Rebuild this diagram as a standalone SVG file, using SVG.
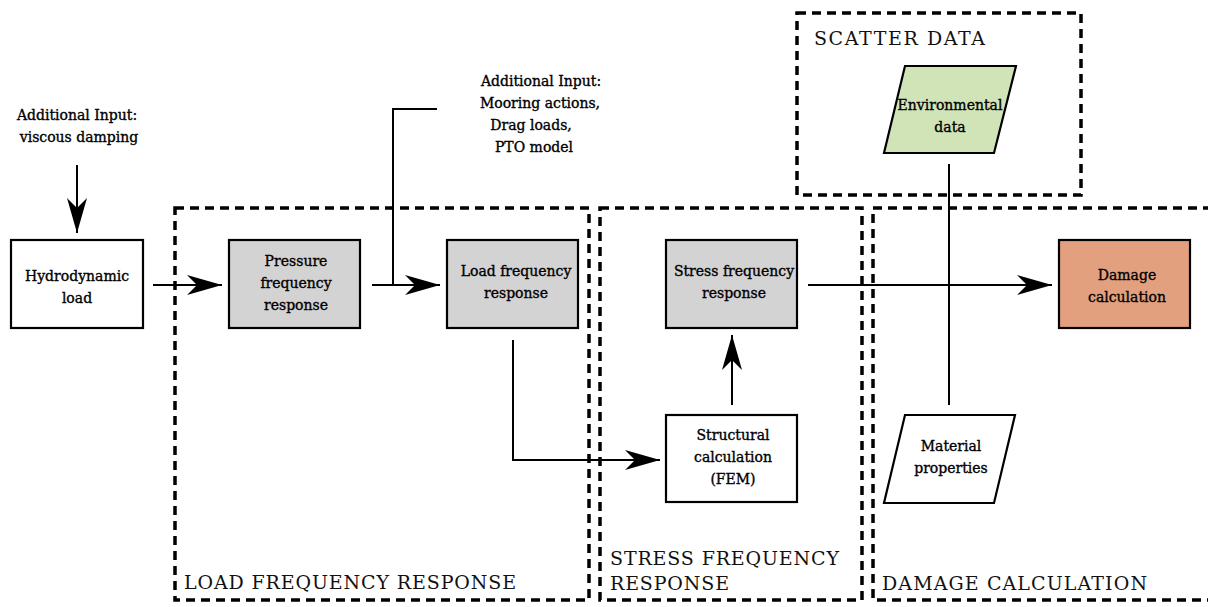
<svg xmlns="http://www.w3.org/2000/svg" width="1208" height="607" viewBox="0 0 1208 607">
<style>
.grp{fill:none;stroke:#000;stroke-width:3.5;stroke-dasharray:9 6}
.box{stroke:#000;stroke-width:2.2}
.t{font-family:'DejaVu Serif',serif;font-size:14px;text-anchor:middle;fill:#000;stroke:#000;stroke-width:0.35}
.g{font-family:'DejaVu Serif',serif;font-size:19px;fill:#111}
.c{fill:none;stroke:#000;stroke-width:2}
</style>
<defs>
<marker id="ah" markerUnits="userSpaceOnUse" markerWidth="36" markerHeight="22" viewBox="0 0 36 22" refX="35" refY="11" orient="auto">
<path d="M0,1 L35,11 L0,21 L10,11 Z" fill="#000"/>
</marker>
</defs>
<rect width="1208" height="607" fill="#fff"/>

<g id="group-load">
<rect class="grp" x="175" y="208" width="414" height="392"/>
<text class="g" x="184" y="589" textLength="332" lengthAdjust="spacing">LOAD FREQUENCY RESPONSE</text>
</g>
<g id="group-stress">
<rect class="grp" x="600" y="208" width="262" height="392"/>
<text class="g" x="610" y="565" textLength="229" lengthAdjust="spacing">STRESS FREQUENCY</text>
<text class="g" x="610" y="590" textLength="119" lengthAdjust="spacing">RESPONSE</text>
</g>
<g id="group-damage">
<path class="grp" d="M1212,208 H873 V600 H1212"/>
<text class="g" x="882" y="590" textLength="265" lengthAdjust="spacing">DAMAGE CALCULATION</text>
</g>
<g id="group-scatter">
<rect class="grp" x="797" y="13" width="284" height="182"/>
<text class="g" x="814" y="45" textLength="171" lengthAdjust="spacing">SCATTER DATA</text>
</g>

<g id="connectors">
<line class="c" x1="77" y1="165" x2="77" y2="233" marker-end="url(#ah)"/>
<line class="c" x1="153" y1="285" x2="222" y2="285" marker-end="url(#ah)"/>
<line class="c" x1="372" y1="285" x2="440" y2="285" marker-end="url(#ah)"/>
<polyline class="c" points="437,109 393,109 393,285"/>
<polyline class="c" points="513,340 513,460 660,460" marker-end="url(#ah)"/>
<line class="c" x1="732" y1="405" x2="732" y2="335" marker-end="url(#ah)"/>
<line class="c" x1="808" y1="285" x2="1052" y2="285" marker-end="url(#ah)"/>
<line class="c" x1="949" y1="164" x2="949" y2="405"/>
</g>

<g id="input-damping">
<text class="t" x="77" y="120">Additional Input:</text>
<text class="t" x="79" y="142">viscous damping</text>
</g>
<g id="input-mooring">
<text class="t" x="541" y="86">Additional Input:</text>
<text class="t" x="540" y="108">Mooring actions,</text>
<text class="t" x="531" y="130">Drag loads,</text>
<text class="t" x="534" y="152">PTO model</text>
</g>

<g id="hydrodynamic-load">
<rect class="box" x="11" y="240" width="132" height="88" fill="#fff"/>
<text class="t" x="77" y="281">Hydrodynamic</text>
<text class="t" x="77" y="303">load</text>
</g>
<g id="pressure-frequency-response">
<rect class="box" x="229" y="240" width="131" height="88" fill="#d3d3d3"/>
<text class="t" x="296" y="266">Pressure</text>
<text class="t" x="296" y="288">frequency</text>
<text class="t" x="296" y="310">response</text>
</g>
<g id="load-frequency-response">
<rect class="box" x="447" y="240" width="131" height="88" fill="#d3d3d3"/>
<text class="t" x="516" y="276">Load frequency</text>
<text class="t" x="516" y="298">response</text>
</g>
<g id="stress-frequency-response">
<rect class="box" x="666" y="240" width="131" height="88" fill="#d3d3d3"/>
<text class="t" x="734" y="276">Stress frequency</text>
<text class="t" x="734" y="298">response</text>
</g>
<g id="damage-calculation">
<rect class="box" x="1059" y="240" width="131" height="88" fill="#e3a07e"/>
<text class="t" x="1127" y="280">Damage</text>
<text class="t" x="1127" y="302">calculation</text>
</g>
<g id="structural-calculation">
<rect class="box" x="666" y="415" width="131" height="87" fill="#fff"/>
<text class="t" x="733" y="440">Structural</text>
<text class="t" x="733" y="462">calculation</text>
<text class="t" x="733" y="484">(FEM)</text>
</g>
<g id="environmental-data">
<polygon class="box" points="905,66 1016,66 994,153 884,153" fill="#d0e4b8"/>
<text class="t" x="950" y="110">Environmental</text>
<text class="t" x="950" y="132">data</text>
</g>
<g id="material-properties">
<polygon class="box" points="905,415 1015,415 994,503 884,503" fill="#fff"/>
<text class="t" x="951" y="451">Material</text>
<text class="t" x="951" y="473">properties</text>
</g>
</svg>
